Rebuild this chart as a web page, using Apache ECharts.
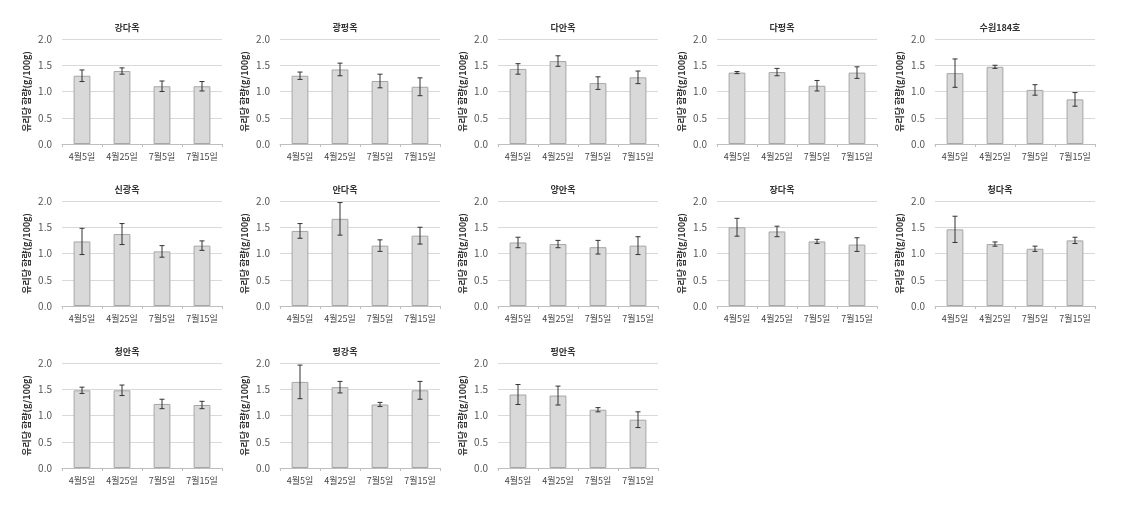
<!DOCTYPE html>
<html>
<head>
<meta charset="utf-8">
<script src="https://cdn.jsdelivr.net/npm/echarts@6/dist/echarts.min.js"></script>
<style>
html,body{margin:0;padding:0;background:#fff;}
#chart{width:1132px;height:509px;}
</style>
</head>
<body>
<div id="chart"></div>
<script>
// ---- data ----
var categories = ['4월5일', '4월25일', '7월5일', '7월15일'];
var varieties = ['강다옥', '광평옥', '다안옥', '다평옥', '수원184호',
                 '신광옥', '안다옥', '양안옥', '장다옥', '청다옥',
                 '청안옥', '평강옥', '평안옥'];
var meanValues = [
  [1.30, 1.39, 1.10, 1.10],
  [1.30, 1.42, 1.20, 1.09],
  [1.43, 1.58, 1.16, 1.27],
  [1.36, 1.37, 1.11, 1.36],
  [1.35, 1.47, 1.03, 0.85],
  [1.23, 1.37, 1.04, 1.15],
  [1.43, 1.66, 1.15, 1.34],
  [1.21, 1.18, 1.12, 1.15],
  [1.50, 1.42, 1.23, 1.17],
  [1.46, 1.18, 1.09, 1.25],
  [1.48, 1.48, 1.22, 1.20],
  [1.64, 1.54, 1.21, 1.48],
  [1.40, 1.38, 1.11, 0.92]
];
var errorValues = [
  [0.11, 0.06, 0.10, 0.09],
  [0.07, 0.12, 0.13, 0.17],
  [0.10, 0.10, 0.12, 0.12],
  [0.02, 0.07, 0.10, 0.11],
  [0.27, 0.03, 0.10, 0.13],
  [0.25, 0.20, 0.11, 0.09],
  [0.14, 0.31, 0.11, 0.16],
  [0.10, 0.07, 0.13, 0.17],
  [0.17, 0.10, 0.04, 0.13],
  [0.25, 0.04, 0.05, 0.06],
  [0.06, 0.10, 0.09, 0.07],
  [0.32, 0.11, 0.04, 0.17],
  [0.19, 0.18, 0.04, 0.15]
];
var yTickValues = [0.0, 0.5, 1.0, 1.5, 2.0];
var yAxisName = '유리당 함량(g/100g)';

// ---- layout ----
var colLefts = [62, 280, 498, 717, 935];
var rowTops = [39, 201, 363];
var plotW = 160, plotH = 105;
var FONT = '"Noto Sans CJK KR", "Noto Sans", sans-serif';

var grids = [], xAxes = [], yAxes = [], series = [], titles = [];

varieties.forEach(function (name, i) {
  var c = i % 5, r = Math.floor(i / 5);
  var left = colLefts[c], top = rowTops[r];
  grids.push({left: left, top: top, width: plotW, height: plotH, containLabel: false});
  titles.push({
    text: name, left: left + 60, top: top - 21, textAlign: 'center',
    textStyle: {fontFamily: FONT, fontSize: 9, fontWeight: 'bold', color: '#333'}
  });
  xAxes.push({
    type: 'category', gridIndex: i, data: categories,
    axisLine: {show: true, lineStyle: {color: '#bfbfbf'}},
    axisTick: {show: true, length: 3, lineStyle: {color: '#bfbfbf'}},
    axisLabel: {fontFamily: FONT, fontSize: 9, color: '#444', margin: 8, interval: 0}
  });
  yAxes.push({
    type: 'value', gridIndex: i, min: yTickValues[0], max: yTickValues[yTickValues.length - 1],
    interval: yTickValues[1] - yTickValues[0],
    name: yAxisName, nameLocation: 'middle', nameRotate: 90, nameGap: 31,
    nameTextStyle: {fontFamily: FONT, fontSize: 9, fontWeight: 'bold', color: '#333'},
    axisLine: {show: false}, axisTick: {show: false},
    splitLine: {show: true, lineStyle: {color: '#d9d9d9'}},
    axisLabel: {fontFamily: FONT, fontSize: 10, color: '#555', margin: 10,
      formatter: function (v) { return v.toFixed(1); }}
  });
  series.push({
    type: 'bar', xAxisIndex: i, yAxisIndex: i, data: meanValues[i], barWidth: '42%',
    itemStyle: {color: '#d9d9d9', borderColor: '#a6a6a6', borderWidth: 1},
    silent: true, animation: false
  });
  series.push({
    type: 'custom', xAxisIndex: i, yAxisIndex: i, z: 5, animation: false, silent: true,
    data: meanValues[i].map(function (m, k) { return [k, m, errorValues[i][k]]; }),
    renderItem: function (params, api) {
      var x = api.value(0), m = api.value(1), e = api.value(2);
      var hi = api.coord([x, m + e]), lo = api.coord([x, m - e]);
      var cap = 2.5;
      var st = {stroke: '#333', lineWidth: 1};
      return {type: 'group', children: [
        {type: 'line', shape: {x1: hi[0], y1: hi[1], x2: lo[0], y2: lo[1]}, style: st},
        {type: 'line', shape: {x1: hi[0] - cap, y1: hi[1], x2: hi[0] + cap, y2: hi[1]}, style: st},
        {type: 'line', shape: {x1: lo[0] - cap, y1: lo[1], x2: lo[0] + cap, y2: lo[1]}, style: st}
      ]};
    }
  });
});

var chart = echarts.init(document.getElementById('chart'), null, {renderer: 'canvas'});
chart.setOption({
  backgroundColor: '#ffffff',
  animation: false,
  title: titles,
  grid: grids,
  xAxis: xAxes,
  yAxis: yAxes,
  series: series
});
</script>
</body>
</html>
